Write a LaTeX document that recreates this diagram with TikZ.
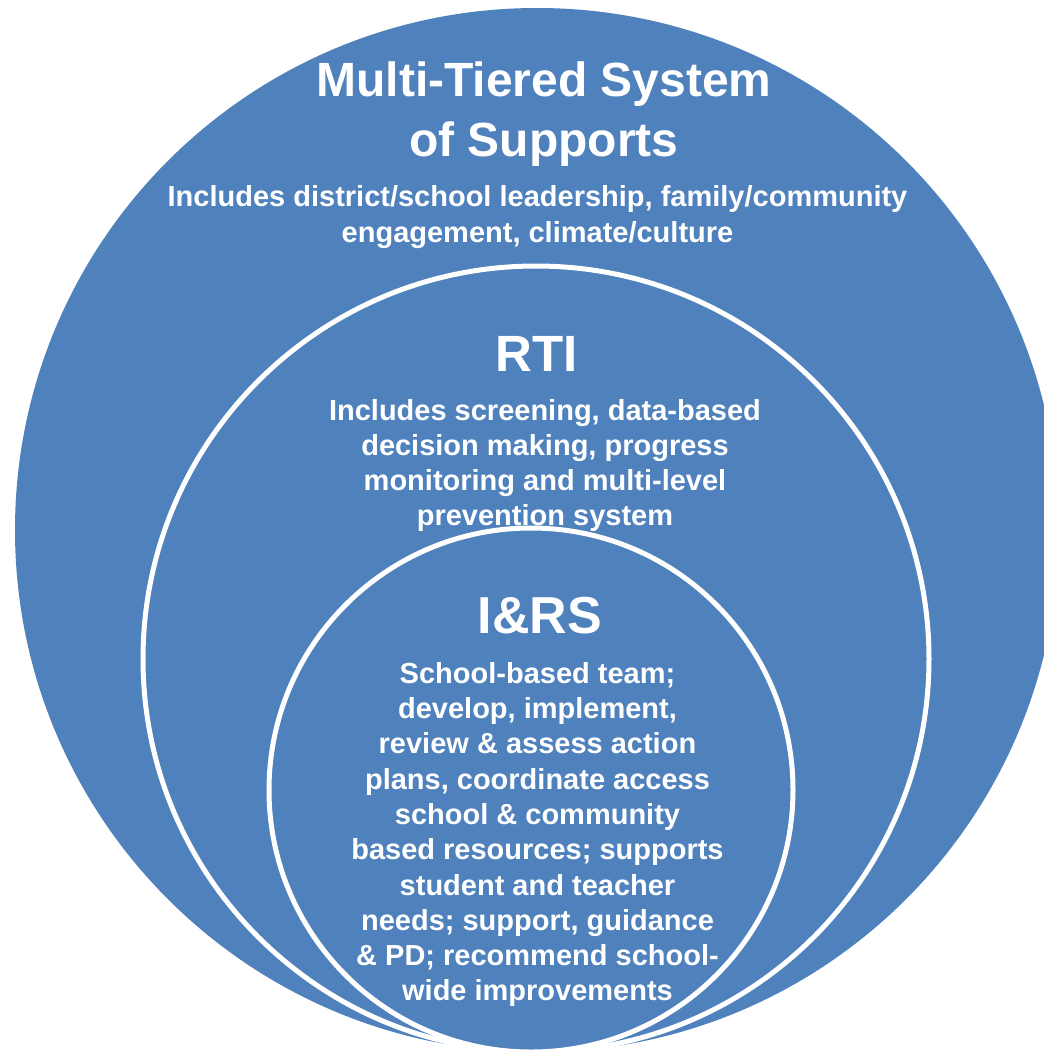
\documentclass[tikz,border=0pt]{standalone}
\usepackage{fontspec}
\setmainfont{Liberation Sans}
\definecolor{tierblue}{HTML}{4F81BD}
\begin{document}
\begin{tikzpicture}[x=1pt,y=-1pt,
  tier/.style={circle, fill=tierblue, inner sep=0pt, minimum size=#1},
  ring/.style={draw=white, line width=5pt},
  txt/.style={text=white, inner sep=0pt, anchor=north, align=center}]
\useasboundingbox (0,0) rectangle (1044,1050);
\clip (0,0) rectangle (1044,1050);
% nested tiers
\node[tier=1044pt] (mtss) at (537,530) {};
\node[tier=786pt, ring] (rti) at (536,659) {};
\node[tier=524pt, ring] (irs) at (531,790) {};
% outer tier
\node[txt, font=\bfseries\fontsize{48}{60}\selectfont] (mtsstitle) at (544,62)
  {Multi-Tiered System\\of Supports};
\node[txt, font=\bfseries\fontsize{29}{36}\selectfont] (mtssnote) at (537.5,185)
  {Includes district/school leadership, family/community\\engagement, climate/culture};
% middle tier
\node[txt, font=\bfseries\fontsize{51}{51}\selectfont] (rtititle) at (536.5,336) {RTI};
\node[txt, font=\bfseries\fontsize{29}{35}\selectfont] (rtinote) at (545,399)
  {Includes screening, data-based\\decision making, progress\\monitoring and multi-level\\prevention system};
% inner tier
\node[txt, font=\bfseries\fontsize{52}{52}\selectfont] (irstitle) at (540,597) {I\&RS};
\node[txt, font=\bfseries\fontsize{29}{35.3}\selectfont] (irsnote) at (537.5,662)
  {School-based team;\\develop, implement,\\review \& assess action\\plans, coordinate access\\school \& community\\based resources; supports\\student and teacher\\needs; support, guidance\\\& PD; recommend school-\\wide improvements};
\end{tikzpicture}
\end{document}
